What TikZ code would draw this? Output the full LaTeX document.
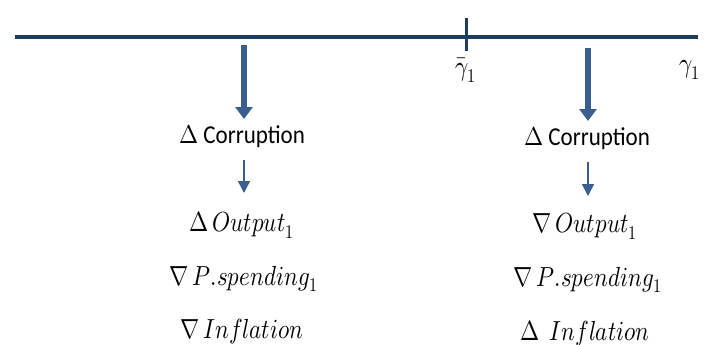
\documentclass[tikz,border=0pt]{standalone}
\usepackage{fontspec}
\usepackage{unicode-math}
\usepackage{graphicx}
\setmainfont{Carlito}
\setmathfont{Latin Modern Math}
\usetikzlibrary{arrows.meta}
\definecolor{axiscol}{HTML}{1F3B5E}
\definecolor{arrcol}{HTML}{3A5F8E}
\newcommand{\mtx}[1]{\scalebox{1}[1.2]{#1}}
\newcommand{\ttx}[1]{\scalebox{1}[1.12]{#1}}
\tikzset{
  lbl/.style={font=\fontsize{23}{26}\selectfont, inner sep=0pt, anchor=center},
  bigarrow/.style={draw=arrcol, line width=6pt, -{Triangle[width=17pt,length=12pt]}, arrcol},
  smallarrow/.style={draw=arrcol, line width=1.4pt, -{Triangle[width=12pt,length=12pt]}, arrcol},
  axis/.style={draw=axiscol, line width=3.5pt},
  tick/.style={draw=axiscol, line width=3pt},
}
\begin{document}
\begin{tikzpicture}[x=1pt,y=-1pt]
\useasboundingbox (0,0) rectangle (704,345);
% axis
\coordinate (axL) at (15,37);
\coordinate (axR) at (698,37);
\draw[axis] (axL) -- (axR);
\coordinate (tkT) at (466,18);
\coordinate (tkB) at (466,51);
\draw[tick] (tkT) -- (tkB);
\node[lbl] (gbar) at (466,70) {\mtx{$\bar{\gamma}_1$}};
\node[lbl] (gam) at (690,70) {\mtx{$\gamma_1$}};
% left column
\coordinate (la) at (244,45);
\node[lbl] (lc) at (242,136) {\ttx{$\Delta$ Corruption}};
\draw[bigarrow] (la) -- (244,119);
\node[lbl] (lo) at (242,225) {\mtx{$\Delta\,Output_1$}};
\draw[smallarrow] (244,160) -- (244,193);
\node[lbl] (lp) at (244,279) {\mtx{$\nabla\,P.spending_1$}};
\node[lbl] (li) at (242,332) {\mtx{$\nabla\,Inflation$}};
% right column
\coordinate (ra) at (588,48);
\node[lbl] (rc) at (587,138) {\ttx{$\Delta$ Corruption}};
\draw[bigarrow] (ra) -- (588,121);
\node[lbl] (ro) at (585,226) {\mtx{$\nabla\,Output_1$}};
\draw[smallarrow] (588,162) -- (588,196);
\node[lbl] (rp) at (588,280) {\mtx{$\nabla\,P.spending_1$}};
\node[lbl] (ri) at (585,333) {\mtx{$\Delta\;\,Inflation$}};
\end{tikzpicture}
\end{document}
